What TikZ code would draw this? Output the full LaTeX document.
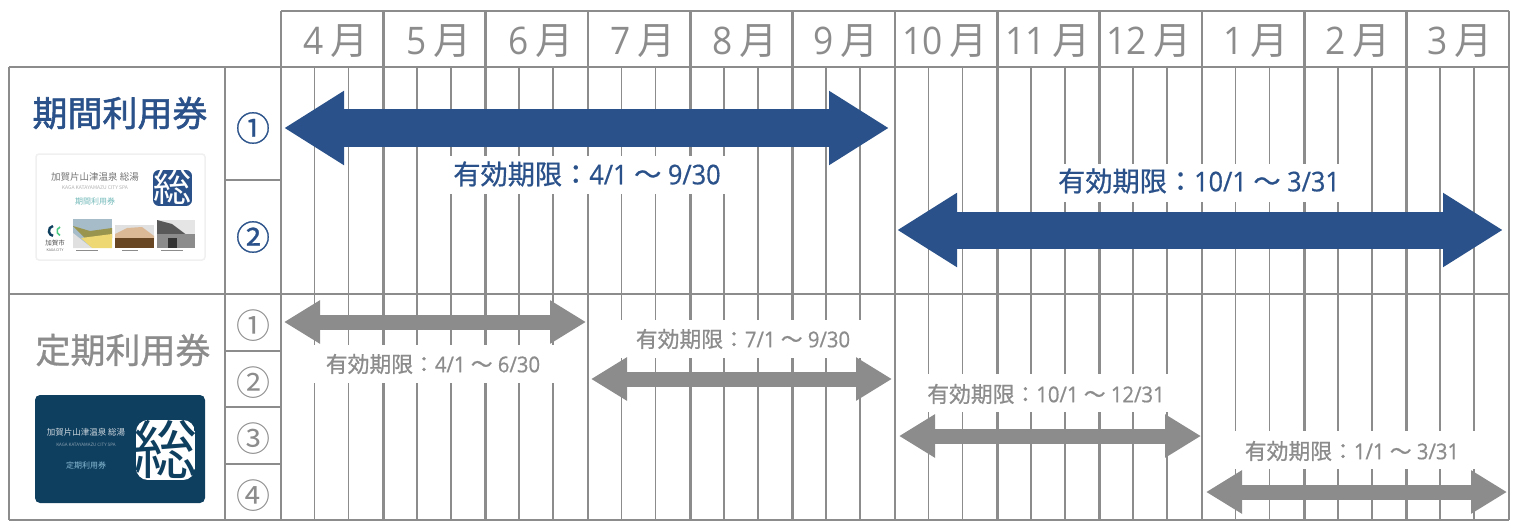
\documentclass[tikz,border=0pt]{standalone}
\usepackage{fontspec}
\usetikzlibrary{arrows.meta}
\setmainfont[FakeStretch=0.93]{Open Sans}
\newfontfamily\latm[FakeStretch=0.93,FakeBold=0.6]{Open Sans}
\newfontfamily\cjk{Noto Sans CJK JP}
\newfontfamily\cjkm[FakeBold=0.8]{Noto Sans CJK JP}
\newfontfamily\cjkb[FakeBold=1.6]{Noto Sans CJK JP}
\definecolor{gridgray}{HTML}{8C8C8C}
\definecolor{navy}{HTML}{2A5189}
\definecolor{carddark}{HTML}{0F3F5F}
\newcommand{\fs}[1]{\fontsize{#1}{#1}\selectfont}
\newcommand{\period}[2]{{\cjkm 有効期限：}{\latm #1 {\cjkm ～} #2}}
\tikzset{
  x=1pt,y=-1pt,
  major/.style={draw=gridgray,line width=2.8pt},
  minor/.style={draw=gridgray,line width=1.5pt},
  month/.style={text=gridgray,inner sep=0pt,font=\fs{38}},
  bluearrow/.style={draw=navy,line width=37pt,{Triangle[length=60pt,width=70pt,fill=navy]}-{Triangle[length=60pt,width=70pt,fill=navy]}},
  grayarrow/.style={draw=gridgray,line width=15pt,{Triangle[length=36pt,width=41pt,fill=gridgray]}-{Triangle[length=36pt,width=41pt,fill=gridgray]}},
  bluelabel/.style={text=navy,inner sep=0pt,font=\fs{27.2}},
  graylabel/.style={text=gridgray,inner sep=0pt,font=\fs{21.8}},
  mask/.style={fill=white,draw=none},
  title/.style={inner sep=0pt,font=\cjkb\fs{35}},
  numblue/.style={text=navy,inner sep=0pt,font=\cjkm\fs{34}},
  numgray/.style={text=gridgray,inner sep=0pt,font=\cjk\fs{34}},
  tiny/.style={inner sep=0pt,font=\cjk\fs{#1}},
}
\begin{document}
\begin{tikzpicture}
\useasboundingbox (0,0) rectangle (1517,524);
% minor grid
\foreach \i in {0,...,11}{
  \draw[minor] ({281+102.33*\i+33.5},67) -- ({281+102.33*\i+33.5},520);
  \draw[minor] ({281+102.33*\i+67.5},67) -- ({281+102.33*\i+67.5},520);
}
% major grid
\foreach \i in {0,...,12}{
  \draw[major] ({281+102.33*\i},11) -- ({281+102.33*\i},520);
}
\draw[major] (281,11) -- (1509,11);
\draw[major] (9,67) -- (1509,67);
\draw[major] (9,294) -- (1509,294);
\draw[major] (9,520) -- (1509,520);
\draw[major] (9,67) -- (9,520);
\draw[major] (225,67) -- (225,520);
\draw[major] (225,180) -- (281,180);
\draw[major] (225,351) -- (281,351);
\draw[major] (225,407) -- (281,407);
\draw[major] (225,464) -- (281,464);
% month heads
\foreach \m/\cx in {4/336,5/439,6/541,7/643,8/745,9/846}{
  \node[month] (m\m) at (\cx,41) {\m\hspace{7pt}{\cjk 月}};
}
\foreach \m/\cx in {10/945,11/1048,12/1149}{
  \node[month] (m\m) at (\cx,41) {\m\hspace{7pt}{\cjk 月}};
}
\foreach \m/\cx in {1/1256,2/1358,3/1460}{
  \node[month] (n\m) at (\cx,41) {\m\hspace{7pt}{\cjk 月}};
}
% masks behind period labels
\fill[mask] (445,156) rectangle (730,194);
\fill[mask] (1055,164) rectangle (1345,202);
\fill[mask] (306,345) rectangle (561,383);
\fill[mask] (613,320) rectangle (866,358);
\fill[mask] (919,374) rectangle (1174,412);
\fill[mask] (1226,431) rectangle (1481,469);
% arrows
\coordinate (b1l) at (284,128); \coordinate (b1r) at (889,128);
\coordinate (b2l) at (897,230); \coordinate (b2r) at (1503,230);
\coordinate (g1l) at (284,322); \coordinate (g1r) at (586,322);
\coordinate (g2l) at (591,379); \coordinate (g2r) at (892,379);
\coordinate (g3l) at (899,436); \coordinate (g3r) at (1201,436);
\coordinate (g4l) at (1206,492); \coordinate (g4r) at (1507,492);
\draw[bluearrow] (b1l) -- (b1r);
\draw[bluearrow] (b2l) -- (b2r);
\draw[grayarrow] (g1l) -- (g1r);
\draw[grayarrow] (g2l) -- (g2r);
\draw[grayarrow] (g3l) -- (g3r);
\draw[grayarrow] (g4l) -- (g4r);
% period labels
\node[bluelabel] (pb1) at (587,174) {\period{4/1}{9/30}};
\node[bluelabel] (pb2) at (1199,181) {\period{10/1}{3/31}};
\node[graylabel] (pg1) at (433,364) {\period{4/1}{6/30}};
\node[graylabel] (pg2) at (743,339) {\period{7/1}{9/30}};
\node[graylabel] (pg3) at (1046,394) {\period{10/1}{12/31}};
\node[graylabel] (pg4) at (1352,451) {\period{1/1}{3/31}};
% row titles
\node[title,text=navy] (t1) at (120,113) {期間利用券};
\node[title,text=gridgray,font=\cjkm\fs{35}] (t2) at (123,350) {定期利用券};
\node[numblue] (r1) at (253,128) {①};
\node[numblue] (r2) at (253,237) {②};
\node[numgray] (s1) at (253,326) {①};
\node[numgray] (s2) at (253,383) {②};
\node[numgray] (s3) at (253,439) {③};
\node[numgray] (s4) at (253,496) {④};
% light card
\draw[draw=black!6,fill=white,rounded corners=3pt,line width=1.5pt] (36,154) rectangle (205,260);
\node[tiny=9.5,text=black!55] (c1a) at (95,177) {加賀片山津温泉 総湯};
\node[tiny=5,text=black!30] (c1b) at (95,188) {KAGA KATAYAMAZU CITY SPA};
\node[tiny=8,text=teal!55] (c1c) at (95,201) {期間利用券};
\begin{scope}
\clip[rounded corners=6pt] (153,170) rectangle (192,206);
\fill[navy] (153,170) rectangle (192,206);
\node[tiny=38,text=white] (c1s) at (172.5,187) {総};
\end{scope}
% logo
\draw[carddark,line width=2.4pt] (53,226) arc (100:260:5pt);
\draw[teal!60!green!70,line width=1.6pt] (60,227) arc (110:250:4.5pt);
\node[tiny=6.5,text=black!70] (c1d) at (55,243) {加賀市};
\node[tiny=3.5,text=black!60] (c1e) at (55,250) {KAGA CITY};
% photo 1
\fill[blue!35!cyan!40!black!35] (73,219) rectangle (112,248);
\fill[olive!70!black!70] (73,226) -- (90,231) -- (112,228) -- (112,238) -- (85,238) -- cycle;
\fill[yellow!55!brown!65] (81,238) -- (112,234) -- (112,248) -- (92,248) -- cycle;
\fill[black!12] (73,248) -- (73,233) -- (92,248) -- cycle;
% photo 2
\fill[black!12] (115,225) rectangle (154,248);
\fill[brown!55!white] (115,234) -- (127,228) -- (142,227) -- (154,236) -- (154,240) -- (115,240) -- cycle;
\fill[brown!55!black] (115,238) -- (154,238) -- (154,248) -- (115,248) -- cycle;
% photo 3
\fill[black!10] (157,220) rectangle (195,248);
\fill[black!65] (157,220) -- (172,224) -- (188,236) -- (195,238) -- (157,238) -- cycle;
\fill[black!45] (157,234) rectangle (195,248);
\fill[black!80] (168,238) rectangle (177,248);
% captions under the photos
\draw[black!45,line width=0.9pt] (76,250.5) -- (98,250.5);
\draw[black!45,line width=0.9pt] (122,250.5) -- (138,250.5);
\draw[black!45,line width=0.9pt] (161,250.5) -- (183,250.5);
% dark card
\fill[carddark,rounded corners=5pt] (35,395) rectangle (205,503);
\node[tiny=8.5,text=white!80!carddark] (c2a) at (86,432) {加賀片山津温泉 総湯};
\node[tiny=4.5,text=white!50!carddark] (c2b) at (86,445) {KAGA KATAYAMAZU CITY SPA};
\node[tiny=8,text=cyan!40!white!75!carddark] (c2c) at (86,465) {定期利用券};
\begin{scope}
\clip[rounded corners=12pt] (136,420) rectangle (195,480);
\fill[white] (136,420) rectangle (195,480);
\node[tiny=64,text=carddark] (c2s) at (165.5,449) {総};
\end{scope}
\end{tikzpicture}
\end{document}
